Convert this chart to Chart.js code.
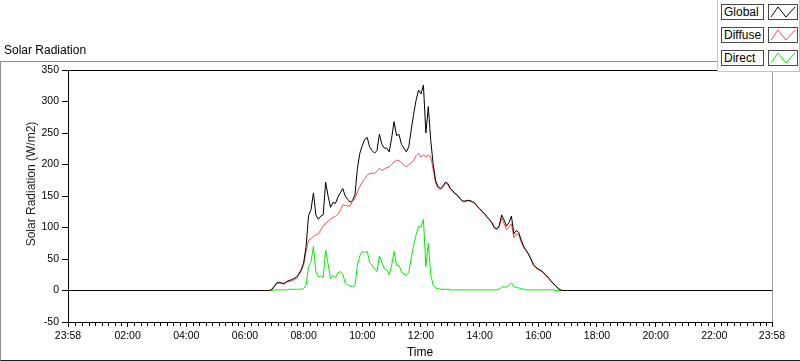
<!DOCTYPE html>
<html>
<head>
<meta charset="utf-8">
<title>Solar Radiation</title>
<script src="https://cdn.jsdelivr.net/npm/chart.js@4/dist/chart.umd.min.js"></script>
<style>
  html, body { margin: 0; padding: 0; background: #fff; }
  #wrap { position: relative; width: 800px; height: 361px; overflow: hidden;
          font-family: "Liberation Sans", Arial, sans-serif; color: #000; }
  #frame { position: absolute; left: 0; top: 61px; width: 799px; height: 298px;
           border-top: 1px solid #8e8e8e; border-left: 1px solid #8e8e8e;
           border-bottom: 1px solid #1e1e1e; }
  #chart { position: absolute; left: 0; top: 0; }
  #title { position: absolute; left: 4px; top: 43px; font-size: 12px; line-height: 14px; }
  #legend { position: absolute; left: 717px; top: 0; width: 81px; height: 71px; background: #fff;
            border-left: 1px solid #c4c4c4; border-bottom: 1px solid #c4c4c4; border-right: 1px solid #c4c4c4; }
  .lab, .ico { position: absolute; box-sizing: border-box; height: 16px; border: 1px solid #4a4a4a; background: #fff; }
  .lab { left: 721px; width: 43px; font-size: 12px; line-height: 14px; padding-left: 2px; }
  .ico { left: 768px; width: 30px; }
  .ico svg { display: block; }
</style>
</head>
<body>
<div id="wrap">
  <div id="frame"></div>
  <canvas id="chart" width="800" height="361"></canvas>
  <div id="title">Solar Radiation</div>
  <div id="legend"></div>
  <div id="legendItems"></div>
</div>
<script>
// time axis in minutes after midnight, first/last point = 23:58
const minutes = [-2];
for (let m = 400; m <= 1020; m += 5) minutes.push(m);
minutes.push(1438);

// W/m2, one value per entry of minutes (06:40 .. 17:00 every 5 min, plus the ends)
const globalRad = [0,
  0, 0, 0, 2, 7, 12, 13, 12, 11, 14, 16, 17, 19, 21, 26, 33,
  44, 70, 119, 128, 155, 120, 113, 118, 120, 172, 150, 132,
  140, 138, 148, 155, 162, 150, 145, 140, 143, 152, 194, 218,
  230, 240, 243, 228, 222, 218, 222, 248, 232, 226, 226, 220,
  242, 268, 246, 248, 232, 226, 220, 228, 255, 280, 302, 318,
  312, 326, 250, 292, 238, 200, 174, 165, 162, 166, 172, 170,
  162, 158, 154, 151, 146, 142, 142, 143, 143, 141, 139, 134,
  130, 126, 122, 117, 113, 108, 100, 98, 103, 120, 112, 102,
  108, 118, 90, 95, 92, 80, 70, 64, 58, 50, 41, 37,
  34, 32, 29, 25, 21, 16, 12, 8, 4, 1, 0, 0, 0,
  0];
const diffuseRad = [0,
  0, 0, 0, 1, 6, 11, 12, 11, 10, 13, 14, 15, 17, 19, 24, 31,
  41, 62, 80, 82, 86, 88, 90, 96, 102, 107, 110, 113,
  116, 118, 121, 127, 136, 135, 134, 134, 141, 146, 157, 165,
  172, 178, 183, 186, 186, 186, 189, 194, 190, 193, 195, 196,
  200, 204, 207, 206, 203, 199, 196, 200, 203, 206, 214, 218,
  212, 215, 212, 215, 212, 192, 170, 162, 160, 164, 170, 168,
  161, 157, 153, 150, 145, 141, 141, 142, 142, 140, 138, 133,
  129, 125, 121, 116, 112, 107, 99, 97, 101, 115, 106, 97,
  100, 106, 84, 90, 88, 77, 68, 63, 57, 49, 40, 36,
  33, 31, 28, 24, 20, 15, 11, 7, 3, 1, 0, 0, 0,
  0];
const directRad = [0,
  0, 0, 0, 0, 1, 1, 1, 1, 1, 1, 2, 2, 2, 2, 2, 2,
  3, 8, 38, 45, 70, 30, 22, 23, 20, 64, 42, 19,
  24, 20, 28, 30, 26, 12, 9, 7, 6, 8, 40, 55,
  62, 60, 62, 45, 40, 35, 30, 55, 45, 35, 33, 25,
  40, 62, 40, 40, 30, 26, 24, 28, 52, 72, 88, 102,
  100, 113, 38, 75, 25, 8, 4, 3, 2, 2, 2, 2,
  1, 1, 1, 1, 1, 1, 1, 1, 1, 1, 1, 1,
  1, 1, 1, 1, 1, 1, 1, 1, 2, 5, 6, 5,
  8, 12, 6, 5, 4, 3, 2, 1, 1, 1, 1, 1,
  1, 1, 1, 1, 1, 1, 1, 0, 0, 0, 0, 0, 0,
  0];

const seriesNames = ['Global', 'Diffuse', 'Direct'];
const seriesColors = ['#000000', '#ff4a4a', '#00ee00'];
const yTicks = [-50, 0, 50, 100, 150, 200, 250, 300, 350];
const xMajor = [-2, 120, 240, 360, 480, 600, 720, 840, 960, 1080, 1200, 1320, 1438];

function fmtTime(v) {
    const m = ((Math.round(v) % 1440) + 1440) % 1440;
    return String(Math.floor(m / 60)).padStart(2, '0') + ':' + String(m % 60).padStart(2, '0');
}

// legend boxes
const items = document.getElementById('legendItems');
seriesNames.forEach((name, i) => {
    const top = 4 + i * 23;
    items.insertAdjacentHTML('beforeend',
        '<div class="lab" style="top:' + top + 'px">' + name + '</div>' +
        '<div class="ico" style="top:' + top + 'px"><svg width="28" height="14">' +
        '<polyline points="2,12 9,2 17,12 26,2" fill="none" stroke="' + seriesColors[i] + '" stroke-width="1"/></svg></div>');
});

// frame edges, minor ticks, y title
const extras = {
    id: 'extras',
    afterDraw(chart) {
        const { ctx, chartArea: a, scales: { x } } = chart;
        ctx.save();
        ctx.lineWidth = 1;
        ctx.strokeStyle = '#000';
        ctx.beginPath();
        ctx.moveTo(a.left, a.top + 0.5);
        ctx.lineTo(a.right, a.top + 0.5);
        ctx.stroke();
        ctx.strokeStyle = '#a0a0a0';
        ctx.beginPath();
        ctx.moveTo(a.right + 0.5, a.top);
        ctx.lineTo(a.right + 0.5, a.bottom);
        ctx.stroke();

        ctx.strokeStyle = '#000';
        ctx.beginPath();
        for (let k = 1; k * 120 / 9 < x.max; k++) {
            if (k % 9 === 0) continue;
            const px = Math.round(x.getPixelForValue(k * 120 / 9)) + 0.5;
            ctx.moveTo(px, a.bottom + 1);
            ctx.lineTo(px, a.bottom + 4);
        }
        ctx.stroke();

        ctx.fillStyle = '#1c1c2c';
        ctx.font = '12px "Liberation Sans", Arial, sans-serif';
        ctx.textAlign = 'center';
        ctx.textBaseline = 'middle';
        ctx.translate(32, 184);
        ctx.rotate(-Math.PI / 2);
        ctx.fillText('Solar Radiation (W/m2)', 0, 0);
        ctx.restore();
    }
};

Chart.defaults.font.family = '"Liberation Sans", Arial, sans-serif';
Chart.defaults.font.size = 10.5;
Chart.defaults.color = '#000';

const seriesValues = [globalRad, diffuseRad, directRad];

new Chart(document.getElementById('chart'), {
    type: 'line',
    data: {
        datasets: seriesNames.map((name, i) => ({
            label: name,
            data: minutes.map((m, j) => ({ x: m, y: seriesValues[i][j] })),
            borderColor: seriesColors[i],
            borderWidth: 1,
            pointRadius: 0,
            tension: 0,
            fill: false
        }))
    },
    options: {
        responsive: false,
        animation: false,
        events: [],
        layout: { padding: { top: 70, right: 28, left: 0, bottom: 0 } },
        plugins: { legend: { display: false }, tooltip: { enabled: false } },
        scales: {
            x: {
                type: 'linear',
                min: -2,
                max: 1438,
                afterBuildTicks: s => { s.ticks = xMajor.map(v => ({ value: v })); },
                afterFit: s => { s.height = 39; },
                ticks: { autoSkip: false, maxRotation: 0, padding: 3, callback: v => fmtTime(v) },
                grid: { drawOnChartArea: false, tickLength: 5, color: '#000' },
                border: { color: '#000' },
                title: { display: true, text: 'Time', font: { size: 12 }, padding: { top: 0, bottom: 1 } }
            },
            y: {
                min: -50,
                max: 350,
                afterBuildTicks: s => { s.ticks = yTicks.map(v => ({ value: v })); },
                afterFit: s => { s.width = 68; },
                ticks: { padding: 3 },
                grid: { drawOnChartArea: false, tickLength: 6, color: '#000' },
                border: { color: '#000' }
            }
        }
    },
    plugins: [extras]
});
</script>
</body>
</html>
